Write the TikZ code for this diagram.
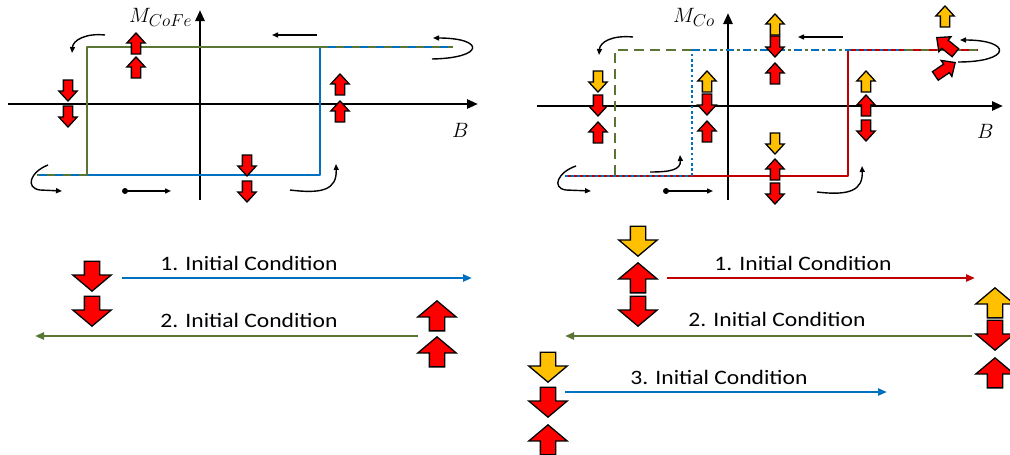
\documentclass[tikz,border=0pt]{standalone}
\usepackage{fontspec}
\newfontfamily\calibri{Carlito}
\usetikzlibrary{shapes.arrows,arrows.meta}
\definecolor{ogreen}{HTML}{5B7534}
\definecolor{oblue}{HTML}{0070C0}
\definecolor{dred}{HTML}{C00000}
\definecolor{aorange}{HTML}{FFC000}
\definecolor{ared}{HTML}{FF0000}
\newcommand{\subsz}[1]{\mbox{\fontsize{17}{19}\selectfont$#1$}}
\begin{document}
\begin{tikzpicture}[x=1pt,y=-1pt,
  axis/.style={line width=2.6pt,-{Triangle[length=11pt,width=9pt]}},
  loopline/.style={line width=2.6pt,line join=round},
  curv/.style={line width=1.4pt,-{Triangle[length=6pt,width=5pt]}},
  longarr/.style={line width=2.2pt,-{Triangle[length=9pt,width=7pt]}},
  ba/.style={single arrow,draw=black,line width=1.3pt,inner xsep=0pt,
    single arrow head indent=0pt,anchor=tip},
  sm/.style={ba,inner ysep=4pt,minimum height=21pt,minimum width=17pt,
    single arrow head extend=4.5pt,single arrow tip angle=85},
  bg/.style={ba,inner ysep=7pt,minimum height=30pt,minimum width=37pt,
    single arrow head extend=11.5pt,single arrow tip angle=100},
  tl/.style={ba,inner ysep=4.5pt,minimum height=24pt,minimum width=18pt,
    single arrow head extend=4.5pt,single arrow tip angle=85},
  arrUp/.style={rotate=90},
  arrDn/.style={rotate=-90},
  rf/.style={fill=ared},
  of/.style={fill=aorange},
  mlabel/.style={font=\fontsize{22}{26}\selectfont,inner sep=0pt,anchor=base west},
  ic/.style={font=\calibri\fontsize{20.5}{24}\selectfont,xscale=1.15,inner sep=0pt,anchor=base}
]
\useasboundingbox (0,0) rectangle (1010,455);

% ================= LEFT PLOT =================
\coordinate (LxS) at (8,104); \coordinate (LxE) at (478,104);
\coordinate (LyS) at (200,200); \coordinate (LyE) at (200,10);
\draw[axis] (LxS) -- (LxE);
\draw[axis] (LyS) -- (LyE);
\node[mlabel] (MCoFe) at (129,22) {$M_{\subsz{CoFe}}$};
\node[mlabel] (BL) at (452,137) {$B$};

% loop
\draw[loopline,oblue] (37,175) -- (320,175) -- (320,47) -- (453,47);
\draw[loopline,ogreen] (320,47) -- (87,47) -- (87,175);
\draw[loopline,ogreen,dash pattern=on 8pt off 8pt] (320,47) -- (453,47);
\draw[loopline,ogreen,dash pattern=on 8pt off 8pt] (87,175) -- (37,175);

% curved arrows
\coordinate (c1a) at (105,35); \coordinate (c1b) at (72,53);
\draw[curv] (c1a) .. controls (86,33) and (73,40) .. (c1b);
\coordinate (c2a) at (48,165); \coordinate (c2m) at (40,190); \coordinate (c2b) at (62,191);
\draw[curv] (c2a) .. controls (30,172) and (25,188) .. (c2m) -- (c2b);
\coordinate (c3a) at (125,191); \coordinate (c3b) at (171,191);
\fill (c3a) circle (3pt);
\draw[curv] (c3a) -- (c3b);
\coordinate (c4a) at (317,35); \coordinate (c4b) at (272,35);
\draw[curv] (c4a) -- (c4b);
\coordinate (c5a) at (432,59); \coordinate (c5b) at (433,38);
\draw[curv] (c5a) .. controls (485,58) and (485,38) .. (c5b);
\coordinate (c6a) at (290,190); \coordinate (c6b) at (336,164);
\draw[curv] (c6a) .. controls (322,194) and (337,190) .. (c6b);

% block arrows (placed by their tips)
\node[sm,rf,arrUp] (l1) at (136,32) {};
\node[sm,rf,arrUp] (l2) at (136,56) {};
\node[sm,rf,arrDn] (l3) at (68,102) {};
\node[sm,rf,arrDn] (l4) at (68,128) {};
\node[sm,rf,arrUp] (l5) at (340,73) {};
\node[sm,rf,arrUp] (l6) at (340,100) {};
\node[sm,rf,arrDn] (l7) at (247,177) {};
\node[sm,rf,arrDn] (l8) at (247,203) {};

% ================= RIGHT PLOT =================
\coordinate (RxS) at (537,106); \coordinate (RxE) at (1003,106);
\coordinate (RyS) at (728,200); \coordinate (RyE) at (728,13);
\draw[axis] (RxS) -- (RxE);
\draw[axis] (RyS) -- (RyE);
\node[mlabel] (MCo) at (673,22) {$M_{\subsz{Co}}$};
\node[mlabel] (BR) at (977,138) {$B$};

% loops
\draw[loopline,dred] (565,176) -- (848,176) -- (848,50) -- (978,50);
\draw[loopline,oblue,dash pattern=on 3pt off 3pt] (565,176) -- (692,176);
\draw[loopline,ogreen,dash pattern=on 10pt off 6pt] (692,50) -- (615,50) -- (615,176);
\draw[loopline,oblue,dash pattern=on 2.6pt off 2.6pt] (692,176) -- (692,50);
\draw[loopline,oblue,dash pattern=on 8pt off 9pt] (692,50) -- (848,50);
\draw[loopline,ogreen,dash pattern=on 3pt off 14pt,dash phase=6pt] (692,50) -- (848,50);
\draw[loopline,oblue,dash pattern=on 3pt off 5pt] (848,50) -- (905,50);
\draw[loopline,ogreen,dash pattern=on 8pt off 8pt] (905,50) -- (978,50);

% curved arrows
\coordinate (d1a) at (633,37); \coordinate (d1b) at (599,55);
\draw[curv] (d1a) .. controls (612,35) and (600,42) .. (d1b);
\coordinate (d2a) at (576,166); \coordinate (d2m) at (566,190); \coordinate (d2b) at (591,191);
\draw[curv] (d2a) .. controls (558,172) and (551,188) .. (d2m) -- (d2b);
\coordinate (d3a) at (666,191); \coordinate (d3b) at (713,191);
\fill (d3a) circle (3pt);
\draw[curv] (d3a) -- (d3b);
\coordinate (d4a) at (650,172); \coordinate (d4b) at (680,155);
\draw[curv] (d4a) .. controls (670,172) and (681,170) .. (d4b);
\coordinate (d5a) at (843,37); \coordinate (d5b) at (798,37);
\draw[curv] (d5a) -- (d5b);
\coordinate (d6a) at (958,62); \coordinate (d6b) at (960,40);
\draw[curv] (d6a) .. controls (1012,62) and (1012,40) .. (d6b);
\coordinate (d7a) at (817,192); \coordinate (d7b) at (862,166);
\draw[curv] (d7a) .. controls (850,196) and (863,190) .. (d7b);

% block arrows (placed by their tips)
\node[sm,of,arrDn] (r1) at (598,93) {};
\node[sm,rf,arrDn] (r2) at (598,117) {};
\node[sm,rf,arrUp] (r3) at (598,121) {};
\node[sm,of,arrUp] (r4) at (707,70) {};
\node[sm,rf,arrDn] (r5) at (707,116) {};
\node[sm,rf,arrUp] (r6) at (707,120) {};
\node[sm,of,arrUp] (r7) at (775,13) {};
\node[sm,rf,arrDn] (r8) at (775,58) {};
\node[sm,rf,arrUp] (r9) at (775,62) {};
\node[sm,of,arrUp] (r10) at (866,70) {};
\node[sm,rf,arrUp] (r11) at (866,94) {};
\node[sm,rf,arrDn] (r12) at (866,142) {};
\node[sm,of,arrDn] (r13) at (775,155) {};
\node[sm,rf,arrUp] (r14) at (775,158) {};
\node[sm,rf,arrDn] (r15) at (775,205) {};
\node[sm,of,arrUp] (r16) at (945,5) {};
\node[tl,rf,rotate=141] (r17) at (936,37) {};
\node[tl,rf,rotate=34] (r18) at (956,62) {};

% ================= BOTTOM LEFT =================
\node[bg,rf,arrDn] (b1) at (92,292) {};
\node[bg,rf,arrDn] (b2) at (92,327) {};
\node[bg,rf,arrUp] (b3) at (437,300) {};
\node[bg,rf,arrUp] (b4) at (437,336) {};
\coordinate (e1a) at (122,278); \coordinate (e1b) at (472,278);
\draw[longarr,oblue] (e1a) -- (e1b);
\node[ic] (t1) at (249,270) {1. Initial Condition};
\coordinate (e2a) at (418,336); \coordinate (e2b) at (35,336);
\draw[longarr,ogreen] (e2a) -- (e2b);
\node[ic] (t2) at (249,327) {2. Initial Condition};

% ================= BOTTOM RIGHT =================
\node[bg,of,arrDn] (b5) at (638,257) {};
\node[bg,rf,arrUp] (b6) at (638,262) {};
\node[bg,rf,arrDn] (b7) at (638,327) {};
\node[bg,of,arrUp] (b8) at (995,287) {};
\node[bg,rf,arrDn] (b9) at (995,351) {};
\node[bg,rf,arrUp] (b10) at (995,357) {};
\node[bg,of,arrDn] (b11) at (548,383) {};
\node[bg,rf,arrDn] (b12) at (548,418) {};
\node[bg,rf,arrUp] (b13) at (548,424) {};
\coordinate (f1a) at (667,278); \coordinate (f1b) at (975,278);
\draw[longarr,dred] (f1a) -- (f1b);
\node[ic] (t3) at (803,270) {1. Initial Condition};
\coordinate (f2a) at (972,336); \coordinate (f2b) at (565,336);
\draw[longarr,ogreen] (f2a) -- (f2b);
\node[ic] (t4) at (777,326) {2. Initial Condition};
\coordinate (f3a) at (565,392); \coordinate (f3b) at (887,392);
\draw[longarr,oblue] (f3a) -- (f3b);
\node[ic] (t5) at (719,384) {3. Initial Condition};
\end{tikzpicture}
\end{document}
